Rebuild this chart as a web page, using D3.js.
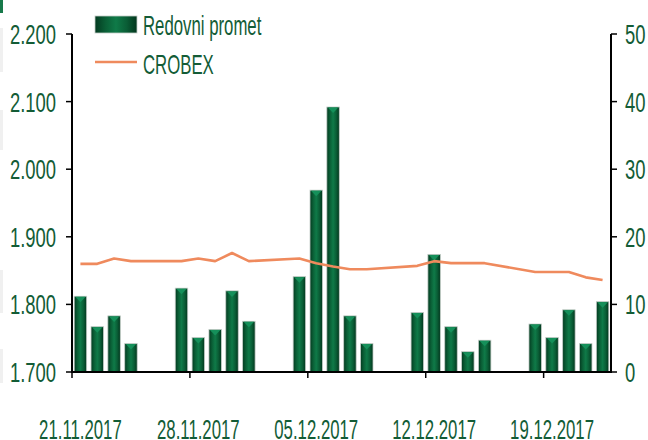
<!DOCTYPE html>
<html><head><meta charset="utf-8">
<script src="https://cdn.jsdelivr.net/npm/d3@7"></script>
<style>html,body{margin:0;padding:0;background:#fff;}svg{display:block;}</style>
</head><body>
<script>
// ---- data ----
const days = ["21.11","22.11","23.11","24.11","25.11","26.11","27.11","28.11","29.11","30.11",
  "01.12","02.12","03.12","04.12","05.12","06.12","07.12","08.12","09.12","10.12","11.12",
  "12.12","13.12","14.12","15.12","16.12","17.12","18.12","19.12","20.12","21.12","22.12"];
const tradingDays = ["21.11","22.11","23.11","24.11","27.11","28.11","29.11","30.11","01.12",
  "04.12","05.12","06.12","07.12","08.12","11.12","12.12","13.12","14.12","15.12",
  "18.12","19.12","20.12","21.12","22.12"];
const turnover = [11.2,6.7,8.3,4.2, 12.4,5.1,6.3,12.0,7.5, 14.1,26.9,39.2,8.3,4.2,
  8.8,17.4,6.7,3.0,4.7, 7.1,5.1,9.2,4.2,10.4];
const crobex = [1860,1860,1868,1864, 1864,1868,1864,1876,1864, 1868,1861,1856,1852,1852,
  1857,1864,1861,1861,1861, 1848,1848,1848,1840,1836];
const leftTicks = [1700,1800,1900,2000,2100,2200];
const leftTickLabels = ["1.700","1.800","1.900","2.000","2.100","2.200"];
const rightTicks = [0,10,20,30,40,50];
const dateTicks = ["21.11","28.11","05.12","12.12","19.12"];
const dateTickLabels = ["21.11.2017","28.11.2017","05.12.2017","12.12.2017","19.12.2017"];
const seriesNames = ["Redovni promet","CROBEX"];

// ---- layout ----
const W=648,H=440, L=72, R=611, T=34, B=372;
const txtColor="#135c36", lineColor="#ef8a5d";
const FONT="'Liberation Sans', Arial, sans-serif";

const svg=d3.select("body").append("svg").attr("width",W).attr("height",H);
const defs=svg.append("defs");
const g=defs.append("linearGradient").attr("id","barg").attr("x1","0").attr("x2","1").attr("y1","0").attr("y2","0");
[[0,"#033a20"],[0.25,"#0a5f36"],[0.5,"#0f7a48"],[0.75,"#0a5e36"],[1,"#02361d"]].forEach(s=>g.append("stop").attr("offset",s[0]).attr("stop-color",s[1]));

const x=d3.scaleBand().domain(days).range([L,R]).paddingInner(0.26).paddingOuter(0.13);
const yL=d3.scaleLinear().domain([1700,2200]).range([B,T]);
const yR=d3.scaleLinear().domain([0,50]).range([B,T]);
const bw=x.bandwidth(), step=x.step();

// left edge artifacts
svg.append("rect").attr("x",0).attr("y",0).attr("width",3).attr("height",13).attr("fill","#17794a");
[[28,72],[110,150],[270,313],[349,383]].forEach(p=>svg.append("rect").attr("x",0).attr("y",p[0]).attr("width",3).attr("height",p[1]-p[0]).attr("fill","#f0f0f0"));

// bars
const bars=svg.append("g");
tradingDays.forEach((d,i)=>{
  const x0=x(d), y0=yR(turnover[i]);
  bars.append("rect").attr("x",x0).attr("y",y0).attr("width",bw).attr("height",B-y0)
    .attr("fill","url(#barg)").attr("stroke","#c3cdc7").attr("stroke-width",0.8);
  bars.append("path").attr("d",`M${x0+1},${y0+0.5}L${x0+bw-1},${y0+0.5}L${x0+bw/2},${y0+6}Z`).attr("fill","#15905a");
});

// line
const line=d3.line().x((d,i)=>x(tradingDays[i])+bw/2).y(d=>yL(d));
svg.append("path").datum(crobex).attr("d",line).attr("fill","none").attr("stroke",lineColor).attr("stroke-width",2.6).attr("stroke-linejoin","round");

// axes
const ax=svg.append("g").attr("stroke","#000").attr("fill","none");
ax.append("line").attr("x1",L).attr("x2",L).attr("y1",T).attr("y2",B+1).attr("stroke-width",2);
ax.append("line").attr("x1",R).attr("x2",R).attr("y1",T).attr("y2",B+1).attr("stroke-width",2);
ax.append("line").attr("x1",L-1).attr("x2",R+1).attr("y1",B).attr("y2",B).attr("stroke-width",2);
leftTicks.forEach(v=>ax.append("line").attr("x1",L-6).attr("x2",L).attr("y1",yL(v)).attr("y2",yL(v)).attr("stroke-width",1.5));
rightTicks.forEach(v=>ax.append("line").attr("x1",R).attr("x2",R+6).attr("y1",yR(v)).attr("y2",yR(v)).attr("stroke-width",1.5));
dateTicks.forEach(d=>{const xt=x(d)-step*x.paddingInner()/2; ax.append("line").attr("x1",xt).attr("x2",xt).attr("y1",B).attr("y2",B+6).attr("stroke-width",1.5);});

function label(str,px,py,anchor,sx){
  svg.append("text").attr("transform",`translate(${px},${py}) scale(${sx},1)`)
    .attr("text-anchor",anchor).attr("font-family",FONT).attr("font-size",27.5)
    .attr("fill",txtColor).text(str);
}
leftTicks.forEach((v,i)=>label(leftTickLabels[i],56,yL(v)+10,"end",0.67));
rightTicks.forEach(v=>label(String(v),625,yR(v)+10,"start",0.67));
dateTicks.forEach((d,i)=>label(dateTickLabels[i],x(d)+bw/2,439,"middle",0.61));

// legend
svg.append("rect").attr("x",95).attr("y",16).attr("width",42).attr("height",17).attr("fill","url(#barg)").attr("stroke","#c3cdc7").attr("stroke-width",0.8);
svg.append("line").attr("x1",95).attr("x2",137).attr("y1",62).attr("y2",62).attr("stroke",lineColor).attr("stroke-width",2.6);
label(seriesNames[0],143,35,"start",0.61);
label(seriesNames[1],143,74,"start",0.61);
</script>
</body></html>
